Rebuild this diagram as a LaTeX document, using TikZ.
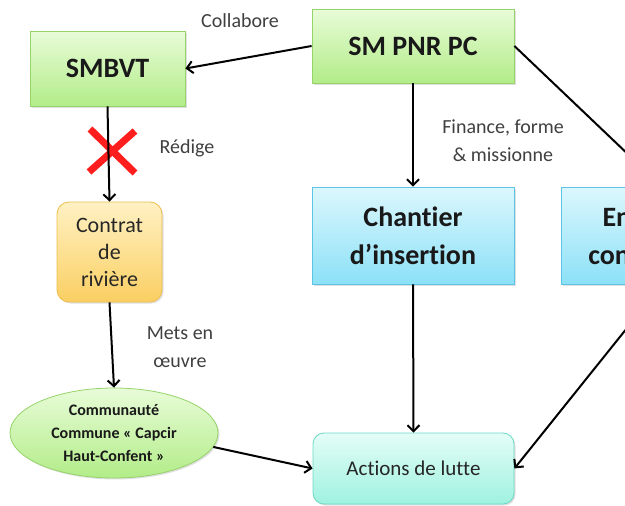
\documentclass[tikz,border=0pt]{standalone}
\usepackage{fontspec}
\setmainfont{Carlito}[Ligatures={NoCommon}]
\usetikzlibrary{arrows.meta, shadows, shapes.geometric}
\definecolor{greentop}{HTML}{E8FCD8}
\definecolor{greenbot}{HTML}{B2EC88}
\definecolor{greenline}{HTML}{96D46A}
\definecolor{bluetop}{HTML}{DCF7FD}
\definecolor{bluebot}{HTML}{8CE1F7}
\definecolor{blueline}{HTML}{5CC5E6}
\definecolor{orangetop}{HTML}{FFF1C4}
\definecolor{orangebot}{HTML}{FACF62}
\definecolor{orangeline}{HTML}{EDBE4E}
\definecolor{tealtop}{HTML}{E4FDF7}
\definecolor{tealbot}{HTML}{9FF2E0}
\definecolor{tealline}{HTML}{6CD8C4}
\definecolor{labelgray}{HTML}{404040}
\definecolor{crossred}{HTML}{FF1E1E}

\tikzset{
  boxshadow/.style={drop shadow={opacity=0.25, shadow xshift=1.5pt, shadow yshift=-1.5pt}},
  actorbox/.style={rectangle, draw=greenline, line width=0.8pt, top color=greentop, bottom color=greenbot,
    text=black!90, font=\fontsize{28}{34}\selectfont\bfseries, boxshadow},
  workbox/.style={rectangle, draw=blueline, line width=0.8pt, top color=bluetop, bottom color=bluebot,
    minimum width=202pt, minimum height=97pt, align=center, text=black!90,
    font=\fontsize{28}{38}\selectfont\bfseries, boxshadow},
  docbox/.style={rectangle, rounded corners=12pt, draw=orangeline, line width=0.8pt, top color=orangetop,
    bottom color=orangebot, minimum width=105pt, minimum height=100pt, align=center, text=black!85,
    font=\fontsize{22}{27}\selectfont, boxshadow},
  actionbox/.style={rectangle, rounded corners=11pt, draw=tealline, line width=0.8pt, top color=tealtop,
    bottom color=tealbot, minimum width=201pt, minimum height=71pt, text=black!85,
    font=\fontsize{21}{25}\selectfont, boxshadow},
  groupell/.style={ellipse, draw=greenline, line width=0.8pt, top color=greentop, bottom color=greenbot,
    minimum width=208pt, minimum height=90pt, inner sep=0pt, align=center, text=black!90,
    font=\fontsize{16}{23}\selectfont\bfseries, boxshadow},
  linklabel/.style={text=labelgray, align=center, font=\fontsize{20}{28}\selectfont},
  link/.style={line width=2pt, -{Straight Barb[length=6pt, width=12pt]}},
  cross/.style={crossred, line width=7pt},
}

\begin{document}
\begin{tikzpicture}[x=1pt, y=-1pt]
    \useasboundingbox (0,0) rectangle (625,506);
    \clip (0,0) rectangle (625,506);
    \fill[white] (0,0) rectangle (625,506);

    % Actors
    \node[actorbox, minimum width=155pt, minimum height=75pt] (smbvt) at (107.5,68.5) {SMBVT};
    \node[actorbox, minimum width=202pt, minimum height=74pt] (smpnr) at (413,46) {SM PNR PC};

    % Middle row
    \node[docbox] (contrat) at (109.5,252) {Contrat\\de\\rivière};
    \node[workbox] (chantier) at (413,235.5) {Chantier\\d’insertion};
    \node[workbox] (entreprise) at (662,235.5) {Entreprise\\contractante};

    % Bottom row
    \node[groupell] (communaute) at (114,433) {Communauté\\Commune « Capcir\\Haut-Confent »};
    \node[actionbox] (actions) at (413.5,468.5) {Actions de lutte};

    % Crossed out link
    \draw[cross] (90,129) -- (135,173);
    \draw[cross] (135,131) -- (89,172);

    % Links
    \draw[link] (smpnr.west) -- (smbvt.east);
    \draw[link] (smbvt.south) -- (contrat.north);
    \draw[link] (contrat.south) -- (communaute.north);
    \draw[link] (smpnr.south) -- (chantier.north);
    \draw[link] (smpnr.east) -- (entreprise.north);
    \draw[link] (chantier.south) -- (actions.north);
    \draw[link] (entreprise.south) -- (actions.east);
    \draw[link] (communaute.-8) -- (actions.west);

    % Link labels
    \node[linklabel] (collabore) at (240,21) {Collabore};
    \node[linklabel] (redige) at (187,148) {Rédige};
    \node[linklabel] (finance) at (503,141) {Finance, forme\\\& missionne};
    \node[linklabel] (mets) at (180,347) {Mets en\\œuvre};
\end{tikzpicture}
\end{document}
